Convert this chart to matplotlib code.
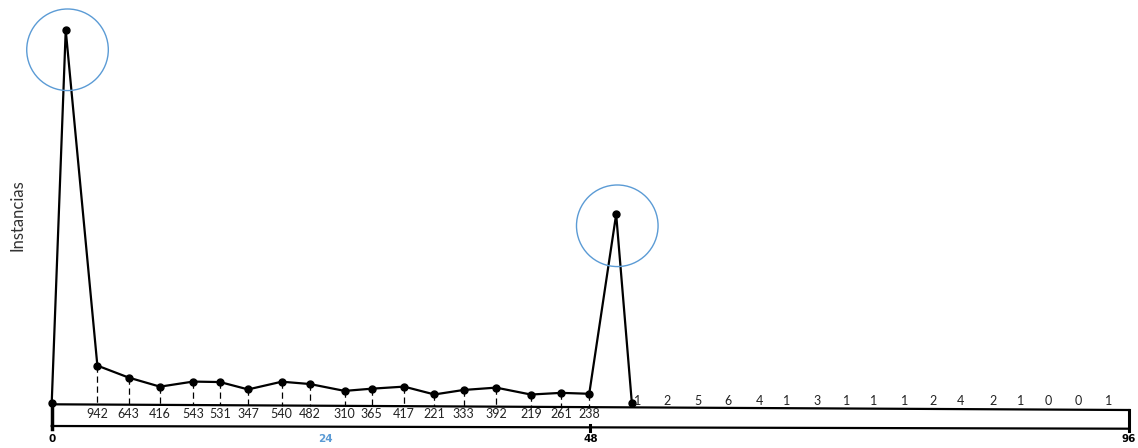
import matplotlib.pyplot as plt
import numpy as np

# --- data ---
# main series (x in hours 0..96, y = instancias)
pts_x = [0, 1.25, 4.07, 6.86, 9.65, 12.6, 15.0, 17.5, 20.5, 23.0, 26.1, 28.5,
         31.4, 34.1, 36.7, 39.6, 42.7, 45.4, 47.9, 50.3, 51.7]
pts_y = [0, 9330, 942, 643, 416, 543, 531, 347, 540, 482, 310, 365,
         417, 221, 333, 392, 219, 261, 238, 4725, 1]
# which points get a dashed drop line + value label under them
lab_idx = list(range(2, 19))

# small counts after hour 48, written above the band
tail_x = [52.2, 54.8, 57.6, 60.3, 63.1, 65.5, 68.2, 70.8, 73.2, 76.0, 78.5,
          81.0, 83.9, 86.3, 88.8, 91.5, 94.2]
tail_lab = ["1", "2", "5", "6", "4", "1", "3", "1", "1", "1", "2",
            "4", "2", "1", "0", "0", "1"]

# highlighted peaks (circle centres)
circ_x = [1.41, 50.4]
circ_y = [8838, 4438]

ticks = [0, 24, 48, 96]
tick_cols = ["black", "#5B9BD5", "black", "black"]

# --- figure ---
W, H = 1138, 448
fig = plt.figure(figsize=(W / 100, H / 100), dpi=100)
left_px, right_px = 51.7, 1129
top_px, bot_px = 20, 440
base_px = 403.3
per_px = 25.0
ax = fig.add_axes([left_px / W, (H - bot_px) / H,
                   (right_px - left_px) / W, (bot_px - top_px) / H])
ax.set_xlim(0, 96)
ax.set_ylim((base_px - bot_px) * per_px, (base_px - top_px) * per_px)
ax.axis('off')


def py(p):  # pixel row -> data y
    return (base_px - p) * per_px


font = "Lato"

# band under the curve (slightly skewed like the original)
band_top = (py(404.3), py(410))
band_bot = (py(426), py(428.7))
ax.plot([0, 96], band_top, color="black", lw=1.6, clip_on=False)
ax.plot([0, 96], band_bot, color="black", lw=1.6, clip_on=False)
ax.plot([0, 0], [band_top[0], py(429)], color="black", lw=2.5, clip_on=False)
ax.plot([96, 96], [band_top[1], py(431)], color="black", lw=2.2, clip_on=False)
ax.plot([48, 48], [py(425), py(431)], color="black", lw=2.2, clip_on=False)


def top_at(x):
    return band_top[0] + (band_top[1] - band_top[0]) * x / 96


# dashed drop lines and labels
for i in lab_idx:
    ax.plot([pts_x[i], pts_x[i]], [pts_y[i], top_at(pts_x[i])], color="black",
            lw=0.9, ls=(0, (5, 3)), zorder=1)
    ax.text(pts_x[i], py(413.5), str(pts_y[i]), ha="center", va="center",
            fontsize=9, family=font, color="#222222")

# main line
ax.plot(pts_x, pts_y, color="black", lw=1.6, marker="o", markersize=5,
        zorder=3, clip_on=False)

# highlight circles
ax.scatter(circ_x, circ_y, s=3450, facecolors="none", edgecolors="#5B9BD5",
           linewidths=1.0, zorder=4, clip_on=False)

# tail counts
for x, t in zip(tail_x, tail_lab):
    ax.text(x, py(401), t, ha="center", va="center", fontsize=9,
            family=font, color="#222222")

# x tick labels
for t, c in zip(ticks, tick_cols):
    ax.text(t + (0.35 if t == 24 else 0), py(439), str(t), ha="center",
            va="center", fontsize=7.5, fontweight="bold", family="DejaVu Sans",
            color=c, clip_on=False)

fig.text(17.5 / W, 1 - 215 / H, "Instancias", rotation=90, ha="center",
         va="center", fontsize=12, family=font, color="#333333")

fig.savefig("out.png", dpi=100)
